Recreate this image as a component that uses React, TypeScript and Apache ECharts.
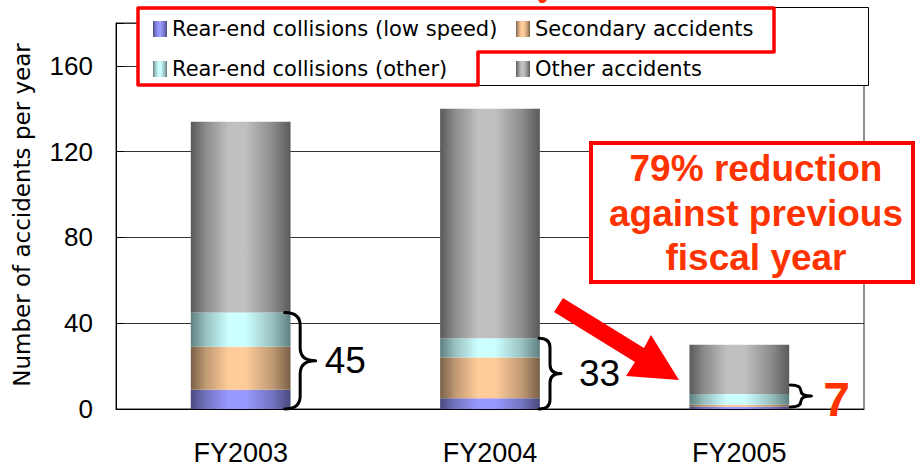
import React, { useEffect, useRef } from "react";
import * as echarts from "echarts";

// ---------- data ----------
const categories = ["FY2003", "FY2004", "FY2005"];
const seriesNames = [
  "Rear-end collisions (low speed)",
  "Secondary accidents",
  "Rear-end collisions (other)",
  "Other accidents",
];
const lowSpeed = [9, 5, 1];
const secondary = [20, 19, 1];
const rearOther = [16, 9, 5];
const otherAccidents = [89, 107, 23];
const yTickLabels = [0, 40, 80, 120, 160];
const yMax = 180;
const yInterval = 40;
const yAxisTitle = "Number of accidents per year";
const annotationLines = ["79% reduction", "against previous", "fiscal year"];

// ---------- styles ----------
const cyl = (edge: string, mid1: string, light: string) => ({
  type: "linear",
  x: 0,
  y: 0,
  x2: 1,
  y2: 0,
  colorStops: [
    { offset: 0, color: edge },
    { offset: 0.15, color: mid1 },
    { offset: 0.38, color: light },
    { offset: 0.55, color: light },
    { offset: 0.82, color: mid1 },
    { offset: 1, color: edge },
  ],
});
const seriesColors = [
  cyl("#4a4a80", "#7373c0", "#9999ff"),
  cyl("#7a6048", "#bf9973", "#ffcc99"),
  cyl("#5f8080", "#99c0c0", "#ccffff"),
  cyl("#5a5a5a", "#8c8c8c", "#c0c0c0"),
];

const RED = "#ff0000";
const ORANGE = "#ff3300";

// brace layout (per category)
const braceOffset = [-6, -1, 1];
const braceWidth = [31, 22, 21];
const braceTopPad = [0, 0, 9];
const braceBottomPad = [0, 0, 2];
const labelGap = [9, 18, 12];
const labelDy = [0, 0, 4];
const labelFont = [
  "normal 37px 'Liberation Sans'",
  "normal 37px 'Liberation Sans'",
  "bold 48px 'Liberation Sans'",
];
const labelColor = ["#000", "#000", ORANGE];

const Brace = (echarts.graphic as any).extendShape({
  type: "brace",
  shape: { x: 0, y1: 0, y2: 0, w: 20 },
  buildPath(ctx: any, s: any) {
    const { x, y1, y2, w } = s;
    const ym = (y1 + y2) / 2;
    const sx = x + w * 0.5;
    const r = Math.min(w * 0.42, (y2 - y1) / 4);
    ctx.moveTo(x, y1);
    ctx.quadraticCurveTo(sx, y1, sx, y1 + r);
    ctx.lineTo(sx, ym - r);
    ctx.quadraticCurveTo(sx, ym, x + w, ym);
    ctx.moveTo(x + w, ym);
    ctx.quadraticCurveTo(sx, ym, sx, ym + r);
    ctx.lineTo(sx, y2 - r);
    ctx.quadraticCurveTo(sx, y2, x, y2);
  },
});
(echarts.graphic as any).registerShape("brace", Brace);

export default function App() {
  const ref = useRef<HTMLDivElement>(null);

  useEffect(() => {
    if (!ref.current) return;
    const chart = echarts.init(ref.current, null, { renderer: "svg" });

    const seriesData = [lowSpeed, secondary, rearOther, otherAccidents];
    const legendText = {
      fontFamily: "DejaVu Sans",
      fontSize: 21,
      color: "#000",
      lineHeight: 22,
    };

    chart.setOption({
      animation: false,
      backgroundColor: "#fff",
      grid: {
        left: 116,
        right: 51,
        top: 23,
        bottom: 60,
        show: true,
        borderColor: "#222",
        borderWidth: 1,
        backgroundColor: "transparent",
      },
      legend: [
        {
          data: [seriesNames[0], seriesNames[2]],
          orient: "vertical",
          left: 153,
          top: 18,
          itemWidth: 14,
          itemHeight: 16,
          itemGap: 18,
          padding: 0,
          icon: "rect",
          selectedMode: false,
          textStyle: legendText,
          z: 6,
        },
        {
          data: [seriesNames[1], seriesNames[3]],
          orient: "vertical",
          left: 516,
          top: 18,
          itemWidth: 14,
          itemHeight: 16,
          itemGap: 18,
          padding: 0,
          icon: "rect",
          selectedMode: false,
          textStyle: legendText,
          z: 6,
        },
      ],
      xAxis: {
        type: "category",
        data: categories,
        axisLine: { lineStyle: { color: "#000", width: 1 } },
        axisTick: { inside: true, length: 10, lineStyle: { color: "#333" } },
        axisLabel: {
          fontFamily: "Liberation Sans",
          fontSize: 27,
          color: "#000",
          margin: 30,
        },
      },
      yAxis: {
        type: "value",
        min: 0,
        max: yMax,
        interval: yInterval,
        axisLine: { show: true, lineStyle: { color: "#000", width: 1 } },
        axisTick: { show: true, inside: true, length: 8, lineStyle: { color: "#000" } },
        axisLabel: {
          fontFamily: "Liberation Sans",
          fontSize: 26,
          color: "#000",
          margin: 23,
          formatter: (v: number) => (yTickLabels.includes(v) ? String(v) : ""),
        },
        splitLine: { lineStyle: { color: "#333", width: 1 } },
      },
      series: seriesNames.map((name, k) => ({
        name,
        type: "bar",
        stack: "total",
        barWidth: "40%",
        data: seriesData[k],
        itemStyle: { color: seriesColors[k] },
        emphasis: { disabled: true },
      })),
    });

    // annotations positioned via the chart's scales
    const toPx = (i: number, v: number) =>
      chart.convertToPixel({ xAxisIndex: 0, yAxisIndex: 0 }, [i, v]) as number[];
    const barHalf = 50;
    const braceEls: any[] = [];
    categories.forEach((_, i) => {
      const partial = lowSpeed[i] + secondary[i] + rearOther[i];
      const top = toPx(i, partial);
      const base = toPx(i, 0);
      const x = top[0] + barHalf + braceOffset[i];
      const y1 = top[1] - braceTopPad[i];
      const y2 = base[1] - braceBottomPad[i];
      braceEls.push({
        type: "brace",
        z: 8,
        shape: { x, y1, y2, w: braceWidth[i] },
        style: { stroke: "#000", lineWidth: 3, fill: "none", lineCap: "round" },
      });
      braceEls.push({
        type: "text",
        z: 8,
        style: {
          text: String(partial),
          x: x + braceWidth[i] + labelGap[i],
          y: (y1 + y2) / 2 + labelDy[i],
          font: labelFont[i],
          fill: labelColor[i],
          textAlign: "left",
          textVerticalAlign: "middle",
          align: "left",
          verticalAlign: "middle",
        },
      });
    });

    const annX = 756;
    const annY = [168, 213, 257];

    chart.setOption({
      graphic: [
        {
          type: "rect",
          z: 3,
          shape: { x: 138.5, y: 7.5, width: 730, height: 78 },
          style: { fill: "#fff", stroke: "#000", lineWidth: 1 },
        },
        {
          type: "polygon",
          z: 7,
          shape: {
            points: [
              [138, 8],
              [774, 8],
              [774, 52],
              [478, 52],
              [478, 85],
              [138, 85],
            ],
          },
          style: { fill: "none", stroke: RED, lineWidth: 3.5, lineJoin: "round" },
        },
        {
          type: "polygon",
          z: 7,
          shape: { points: [[538, 0], [547, 0], [544, 3], [540, 3]] },
          style: { fill: ORANGE },
        },
        {
          type: "text",
          z: 7,
          rotation: Math.PI / 2,
          x: 22,
          y: 215,
          style: {
            text: yAxisTitle,
            font: "23px 'DejaVu Sans'",
            fill: "#000",
            textAlign: "center",
            textVerticalAlign: "middle",
            align: "center",
            verticalAlign: "middle",
          },
        },
        {
          type: "rect",
          z: 5,
          shape: { x: 591, y: 143, width: 322, height: 139 },
          style: { fill: "#fff", stroke: RED, lineWidth: 4 },
        },
        ...annotationLines.map((t, k) => ({
          type: "text",
          z: 6,
          style: {
            text: t,
            x: annX,
            y: annY[k],
            font: "bold 37px 'Liberation Sans'",
            fill: ORANGE,
            textAlign: "center",
            textVerticalAlign: "middle",
            align: "center",
            verticalAlign: "middle",
          },
        })),
        {
          type: "polygon",
          z: 6,
          shape: {
            points: [
              [563, 298],
              [644, 348],
              [651, 335],
              [679, 380],
              [626, 376],
              [635, 362],
              [554, 312],
            ],
          },
          style: { fill: RED },
        },
        ...braceEls,
      ],
    });

    return () => chart.dispose();
  }, []);

  return <div ref={ref} style={{ width: 915, height: 469, position: "absolute", left: 0, top: 0 }} />;
}
